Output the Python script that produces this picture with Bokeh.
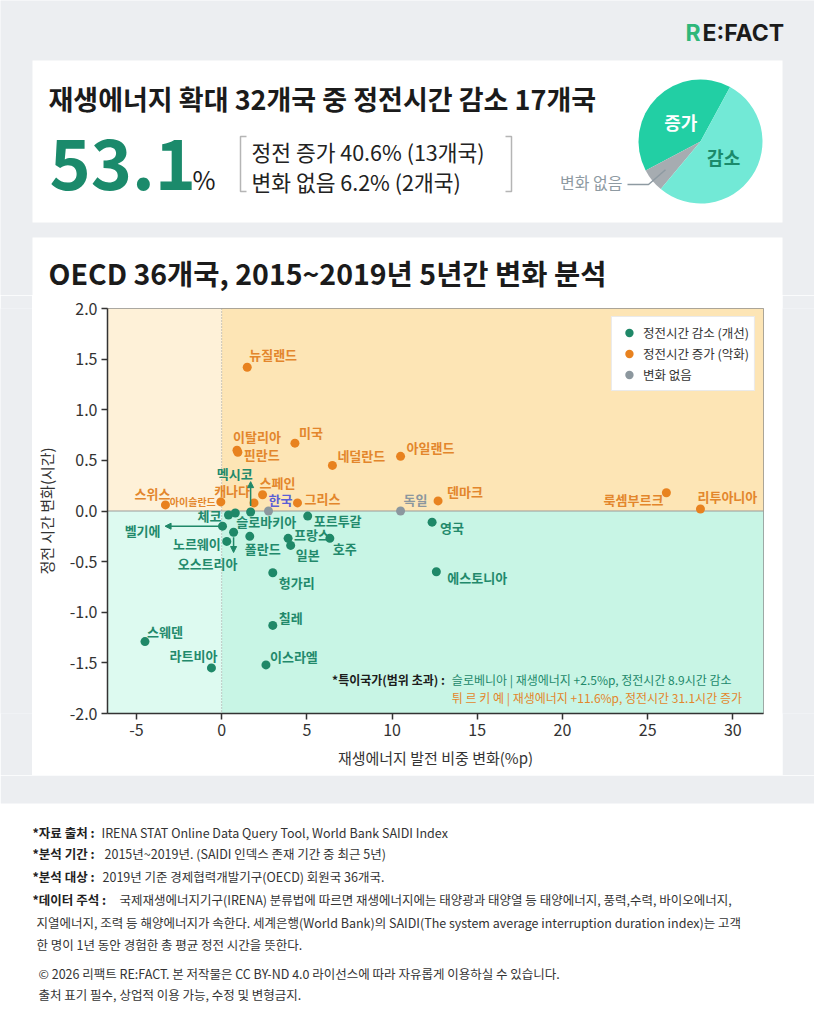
import math
from bokeh.plotting import figure
from bokeh.layouts import column, row
from bokeh.models import (ColumnDataSource, Range1d, FixedTicker, PrintfTickFormatter,
                          BoxAnnotation, Span, Arrow, NormalHead, Legend, LegendItem)
from bokeh.core.properties import value
from bokeh.embed import file_html
from bokeh.resources import INLINE

FONT = "Noto Sans CJK KR"
PAGE_BG = "#eceef1"
INK = "#1b1b1b"
TEXT = "#333333"
BRAND = "#1b8a6b"

# ---------------- data ----------------
share_labels = ["증가", "변화 없음", "감소"]
share_pct = [40.6, 6.2, 53.1]
share_count = [13, 2, 17]

countries = ["뉴질랜드", "이탈리아", "핀란드", "미국", "네덜란드", "아일랜드", "스위스",
             "아이슬란드", "캐나다", "스페인", "그리스", "덴마크", "룩셈부르크", "리투아니아",
             "한국", "독일",
             "체코", "슬로바키아", "멕시코", "벨기에", "노르웨이", "오스트리아", "폴란드",
             "포르투갈", "프랑스", "일본", "호주", "헝가리", "영국", "에스토니아", "칠레",
             "스웨덴", "라트비아", "이스라엘"]
renew_change = [1.5, 0.9, 0.95, 4.3, 6.5, 10.5, -3.3,
                -0.05, 1.9, 2.4, 4.45, 12.7, 26.1, 28.1,
                2.75, 10.5,
                0.4, 0.8, 1.7, 0.05, 0.3, 0.7, 1.65,
                5.05, 3.9, 4.05, 6.35, 3.0, 12.35, 12.6, 3.0,
                -4.5, -0.6, 2.6]
outage_change = [1.42, 0.60, 0.58, 0.67, 0.45, 0.54, 0.06,
                 0.09, 0.08, 0.16, 0.08, 0.10, 0.18, 0.02,
                 0.0, 0.0,
                 -0.04, -0.02, -0.01, -0.15, -0.30, -0.21, -0.25,
                 -0.05, -0.27, -0.34, -0.27, -0.61, -0.11, -0.60, -1.13,
                 -1.29, -1.55, -1.52]
outcome = ["증가"] * 14 + ["변화 없음"] * 2 + ["감소"] * 18

outlier_names = ["슬로베니아", "튀 르 키 예"]
outlier_renew = [2.5, 11.6]
outlier_outage = [-8.9, 31.1]

x_ticks = [-5, 0, 5, 10, 15, 20, 25, 30]
y_ticks = [-2.0, -1.5, -1.0, -0.5, 0.0, 0.5, 1.0, 1.5, 2.0]

notes = [
    ("*자료 출처 :", "IRENA STAT Online Data Query Tool, World Bank SAIDI Index"),
    ("*분석 기간 :", "2015년~2019년. (SAIDI 인덱스 존재 기간 중 최근 5년)"),
    ("*분석 대상 :", "2019년 기준 경제협력개발기구(OECD) 회원국 36개국."),
    ("*데이터 주석 :", "국제재생에너지기구(IRENA) 분류법에 따르면 재생에너지에는 태양광과 태양열 등 태양에너지, 풍력,수력, 바이오에너지,"),
    ("", "지열에너지, 조력 등 해양에너지가 속한다. 세계은행(World Bank)의 SAIDI(The system average interruption duration index)는 고객"),
    ("", "한 명이 1년 동안 경험한 총 평균 정전 시간을 뜻한다."),
]
license_lines = ["© 2026 리팩트 RE:FACT. 본 저작물은 CC BY-ND 4.0 라이선스에 따라 자유롭게 이용하실 수 있습니다.",
                 "출처 표기 필수, 상업적 이용 가능, 수정 및 변형금지."]

# ---------------- styles ----------------
GROUPS = [
    ("감소", "정전시간 감소 (개선)", "#1f8868", "#22896b"),
    ("증가", "정전시간 증가 (악화)", "#e8821f", "#e3862c"),
    ("변화 없음", "변화 없음", "#8c979e", "#8c979e"),
]
LABEL_OVERRIDE_COLOR = {"한국": "#5b5fd6"}
LABEL_SMALL = {"아이슬란드"}

# pixel offsets of each country label from its dot: (dx, dy, align)
LABEL_OFFSETS = {
    "뉴질랜드": (2, -13, "left"), "이탈리아": (-4, -14, "left"), "핀란드": (6, 2, "left"),
    "미국": (4, -11, "left"), "네덜란드": (5, -10, "left"), "아일랜드": (6, -9, "left"),
    "스위스": (-13, -11, "center"), "아이슬란드": (-5, 0, "right"), "캐나다": (-4, -12, "right"),
    "스페인": (-3, -12, "left"), "그리스": (7, -4, "left"), "덴마크": (9, -9, "left"),
    "룩셈부르크": (-3, 7, "right"), "리투아니아": (-3, -12, "left"),
    "한국": (0, -12, "left"), "독일": (3, -12, "left"),
    "체코": (-7, 0, "right"), "슬로바키아": (1, 8, "left"), "멕시코": (2, -39, "right"),
    "벨기에": (-62, 4, "right"), "노르웨이": (-6, 2, "right"), "오스트리아": (-26, 31, "center"),
    "폴란드": (-5, 12, "left"), "포르투갈": (6, 4, "left"), "프랑스": (6, -4, "left"),
    "일본": (5, 9, "left"), "호주": (3, 10, "left"), "헝가리": (6, 10, "left"),
    "영국": (8, 5, "left"), "에스토니아": (11, 6, "left"), "칠레": (6, -8, "left"),
    "스웨덴": (2, -10, "left"), "라트비아": (6, -12, "right"), "이스라엘": (4, -8, "left"),
}
# leader arrows, offsets from the dot in data units: (start dx, start dy, end dx, end dy)
ARROWS = {
    "멕시코": (0.0, 0.06, 0.0, 0.30),
    "벨기에": (-0.2, 0.0, -3.37, 0.0),
    "오스트리아": (0.0, -0.05, 0.0, -0.20),
}

W = 814


def canvas(w, h, bg):
    return figure(width=w, height=h, x_range=Range1d(0, w), y_range=Range1d(0, h),
                  x_axis_type=None, y_axis_type=None, toolbar_location=None,
                  output_backend="svg", min_border=0, outline_line_color=None,
                  background_fill_color=bg, border_fill_color=bg)


class Sheet:
    """Draws on a blank figure using page-style coordinates (y grows downward)."""

    def __init__(self, fig, top):
        self.f, self.top, self.h = fig, top, fig.height

    def y(self, py):
        return self.h - (py - self.top)

    def text(self, x, py, s, size, color, bold=False, align="left", baseline="middle", font=FONT):
        self.f.text(x=[x], y=[self.y(py)], text=[s], text_font=value(font),
                    text_font_size=f"{size}px", text_color=color,
                    text_font_style="bold" if bold else "normal",
                    text_align=align, text_baseline=baseline)

    def box(self, x0, x1, py0, py1, color):
        self.f.quad(left=[x0], right=[x1], top=[self.y(py0)], bottom=[self.y(py1)],
                    fill_color=color, line_color=None)

    def line(self, xs, pys, color, width):
        self.f.line(x=xs, y=[self.y(v) for v in pys], line_color=color, line_width=width)


# ---------------- header: summary card ----------------
head = canvas(W, 295, PAGE_BG)
hs = Sheet(head, 0)
hs.box(32, 782, 60, 222, "#ffffff")
hs.box(32, 782, 237, 295, "#ffffff")
hs.text(685, 32, "R", 23, "#2fb77a", bold=True, font="Inter")
hs.text(702, 32, "E:FACT", 23, INK, bold=True, font="Inter")

hs.text(48, 98, f"재생에너지 확대 {sum(share_count)}개국 중 정전시간 감소 {share_count[2]}개국",
        27, INK, bold=True)
hs.text(49, 163, f"{share_pct[2]}", 70, BRAND, bold=True)
hs.text(192, 178, "%", 25, INK)
hs.line([246, 240, 240, 246], [136, 136, 191, 191], "#b5b5b5", 1.5)
hs.line([505, 511, 511, 505], [136, 136, 191, 191], "#b5b5b5", 1.5)
hs.text(251, 151, f"정전 증가 {share_pct[0]}% ({share_count[0]}개국)", 21.5, "#222222")
hs.text(251, 181, f"변화 없음 {share_pct[1]}% ({share_count[1]}개국)", 21.5, "#222222")

# pie of outcomes
pie_colors = {"증가": "#22cfa4", "변화 없음": "#a6acb1", "감소": "#72e9d6"}
pcx, pcy, pr = 700, 141, 62
start = math.radians(61.5)
total = sum(share_pct)
mid = {}
for lab, v in zip(share_labels, share_pct):
    end = start + v / total * 2 * math.pi
    head.wedge(x=pcx, y=hs.y(pcy), radius=pr, start_angle=start, end_angle=end,
               fill_color=pie_colors[lab], line_color=None)
    mid[lab] = (start + end) / 2
    start = end

a = mid["증가"]
hs.text(pcx + 28 * math.cos(a), pcy - 28 * math.sin(a), "증가", 18, "#ffffff", bold=True, align="center")
a = mid["감소"]
hs.text(pcx + 28 * math.cos(a), pcy - 28 * math.sin(a), "감소", 18, BRAND, bold=True, align="center")
a = mid["변화 없음"]
ix, iy = pcx + 45 * math.cos(a), pcy - 45 * math.sin(a)
hs.line([627, 648, ix], [184, 184, iy], "#8e9aa2", 1.5)
hs.text(622, 181, "변화 없음", 16, "#8e9aa2", align="right")

hs.text(48, 272, f"OECD {len(countries) + len(outlier_names)}개국, 2015~2019년 5년간 변화 분석",
        28.5, INK, bold=True)

# ---------------- scatter card ----------------
p = figure(width=750, height=480, x_range=Range1d(-6.7, 31.8), y_range=Range1d(-2, 2),
           toolbar_location=None, output_backend="svg",
           min_border_left=71, min_border_right=19, min_border_top=13, min_border_bottom=62,
           background_fill_color="#ffffff", border_fill_color="#ffffff",
           outline_line_color="#8f8f8f", outline_line_width=1)
p.grid.visible = False

for kw, col in [(dict(left=0, bottom=0), "#fde5b5"), (dict(right=0, bottom=0), "#fef1d8"),
                (dict(left=0, top=0), "#c8f5e5"), (dict(right=0, top=0), "#ddfaf0")]:
    p.add_layout(BoxAnnotation(fill_color=col, fill_alpha=1, line_color=None, level="underlay", **kw))
p.add_layout(Span(location=0, dimension="width", line_color="#9a9a9a", line_width=1, level="underlay"))
p.add_layout(Span(location=0, dimension="height", line_color="#9a9a9a", line_width=1,
                  line_dash="1 2", level="underlay"))

for ax in (p.xaxis[0], p.yaxis[0]):
    ax.axis_line_color = "#333333"
    ax.axis_line_width = 1.5
    ax.major_tick_line_color = "#333333"
    ax.major_tick_line_width = 1.5
    ax.major_tick_in = 0
    ax.major_tick_out = 6
    ax.minor_tick_line_color = None
    ax.major_label_text_font = FONT
    ax.major_label_text_font_size = "16px"
    ax.major_label_text_color = TEXT
    ax.major_label_standoff = 4
    ax.axis_label_text_font = FONT
    ax.axis_label_text_font_size = "15px"
    ax.axis_label_text_font_style = "normal"
    ax.axis_label_text_color = TEXT
p.xaxis.ticker = FixedTicker(ticks=x_ticks)
p.yaxis.ticker = FixedTicker(ticks=y_ticks)
p.xaxis.formatter = PrintfTickFormatter(format="%d")
p.yaxis.formatter = PrintfTickFormatter(format="%.1f")
p.xaxis.axis_label = "재생에너지 발전 비중 변화(%p)"
p.yaxis.axis_label = "정전 시간 변화(시간)"
p.xaxis.axis_label_standoff = 8
p.yaxis.axis_label_standoff = 10

items = []
lab = dict(x=[], y=[], text=[], dx=[], dy=[], align=[], lcol=[], fs=[])
for key, legend_text, dot_col, lab_col in GROUPS:
    idx = [i for i, o in enumerate(outcome) if o == key]
    src = ColumnDataSource(dict(x=[renew_change[i] for i in idx],
                                y=[outage_change[i] for i in idx],
                                name=[countries[i] for i in idx]))
    r = p.scatter("x", "y", source=src, size=9, fill_color=dot_col, line_color=None)
    items.append(LegendItem(label=legend_text, renderers=[r]))
    for i in idx:
        name = countries[i]
        dx, dy, al = LABEL_OFFSETS[name]
        lab["x"].append(renew_change[i])
        lab["y"].append(outage_change[i])
        lab["text"].append(name)
        lab["dx"].append(dx)
        lab["dy"].append(dy)
        lab["align"].append(al)
        lab["lcol"].append(LABEL_OVERRIDE_COLOR.get(name, lab_col))
        lab["fs"].append("10px" if name in LABEL_SMALL else "13px")

p.text(x="x", y="y", text="text", x_offset="dx", y_offset="dy", text_align="align",
       text_color="lcol", text_font_size="fs", text_font=value(FONT),
       text_font_style="bold", text_baseline="middle", source=ColumnDataSource(lab))

green = GROUPS[0][2]
for name, (sx, sy, ex, ey) in ARROWS.items():
    i = countries.index(name)
    x0, y0 = renew_change[i], outage_change[i]
    p.add_layout(Arrow(end=NormalHead(size=6, fill_color=green, line_color=green, line_width=1),
                       x_start=x0 + sx, y_start=y0 + sy, x_end=x0 + ex, y_end=y0 + ey,
                       line_color=green, line_width=1.5))

legend = Legend(items=items, location="top_right", margin=8, padding=5,
                glyph_width=24, glyph_height=21, spacing=0, label_standoff=2,
                label_height=21, label_text_font=FONT, label_text_font_size="12.5px",
                label_text_color=TEXT, border_line_color="#d5d5d5",
                background_fill_color="#ffffff", background_fill_alpha=1)
p.add_layout(legend)

# outliers beyond the plotted range
note_y = [-1.662, -1.84]
p.text(x=[13.1], y=[note_y[0]], text=["*특이국가(범위 초과) :"], text_font=value(FONT),
       text_font_size="12px", text_font_style="bold", text_color=INK,
       text_align="right", text_baseline="middle")
for k, (nm, dr, do) in enumerate(zip(outlier_names, outlier_renew, outlier_outage)):
    word = "감소" if do < 0 else "증가"
    col = GROUPS[0][3] if do < 0 else GROUPS[1][3]
    p.text(x=[13.51], y=[note_y[k]],
           text=[f"{nm} | 재생에너지 +{dr}%p, 정전시간 {abs(do)}시간 {word}"],
           text_font=value(FONT), text_font_size="12px", text_color=col,
           text_align="left", text_baseline="middle")

left_fill = canvas(32, 480, PAGE_BG)
right_fill = canvas(32, 480, PAGE_BG)

# ---------------- footer ----------------
foot = canvas(W, 249, "#ffffff")
fs = Sheet(foot, 775)
fs.box(0, W, 775, 803, PAGE_BG)
note_rows = [832, 853, 876, 899, 922, 944]
rest_x = [101, 104, 102, 119, 36, 36]
for (bold, rest), py, rx in zip(notes, note_rows, rest_x):
    if bold:
        fs.text(32, py, bold, 12.5, "#222222", bold=True)
    fs.text(rx, py, rest, 12.5, "#333333")
for s, py in zip(license_lines, [973, 994]):
    fs.text(38, py, s, 12.5, "#333333")

layout = column(head, row(left_fill, p, right_fill), foot)
open("out.html", "w").write(file_html(layout, INLINE))
